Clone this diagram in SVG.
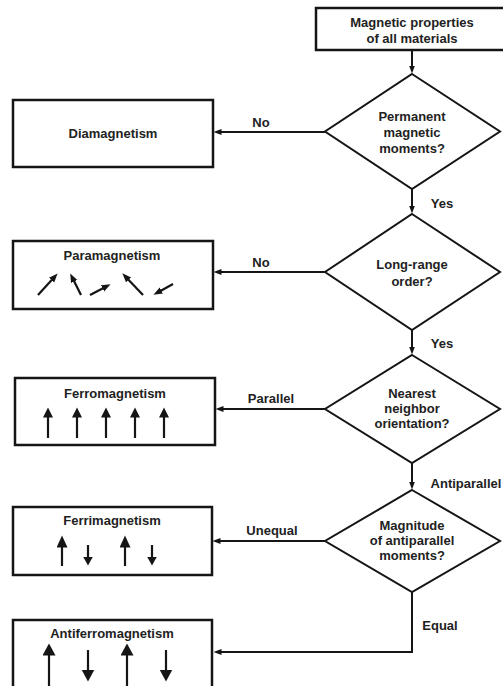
<svg xmlns="http://www.w3.org/2000/svg" width="503" height="686" viewBox="0 0 503 686">
<style>
  .box{fill:#fff;stroke:#151515;stroke-width:2.5}
  .dia{fill:#fff;stroke:#151515;stroke-width:2}
  .t{font-family:"Liberation Sans",Arial,sans-serif;font-weight:bold;font-size:13px;fill:#222;text-anchor:middle}
  .c{fill:none;stroke:#151515;stroke-width:2}
  .a{fill:none;stroke:#151515;stroke-width:2.2}
</style>
<defs>
  <marker id="mc" markerUnits="userSpaceOnUse" markerWidth="9" markerHeight="7" refX="0.5" refY="3" orient="auto"><path d="M0,0 L8,3 L0,6 z" fill="#151515"/></marker>
  <marker id="mp" markerUnits="userSpaceOnUse" markerWidth="10" markerHeight="8" refX="0.5" refY="3.5" orient="auto"><path d="M0,0 L9,3.5 L0,7 z" fill="#151515"/></marker>
  <marker id="mf" markerUnits="userSpaceOnUse" markerWidth="11" markerHeight="11" refX="0.5" refY="5" orient="auto"><path d="M0,0 L10,5 L0,10 z" fill="#151515"/></marker>
  <marker id="mu" markerUnits="userSpaceOnUse" markerWidth="13" markerHeight="12" refX="0.5" refY="5.5" orient="auto"><path d="M0,0 L12,5.5 L0,11 z" fill="#151515"/></marker>
  <marker id="md" markerUnits="userSpaceOnUse" markerWidth="10" markerHeight="11" refX="0.5" refY="5" orient="auto"><path d="M0,0 L9,5 L0,10 z" fill="#151515"/></marker>
  <marker id="ma" markerUnits="userSpaceOnUse" markerWidth="13" markerHeight="14" refX="0.5" refY="6.5" orient="auto"><path d="M0,0 L12,6.5 L0,13 z" fill="#151515"/></marker>
</defs>

<g id="connectors">
  <path class="c" d="M412,50 V66" marker-end="url(#mc)"/>
  <path class="c" d="M325,132 H221" marker-end="url(#mc)"/>
  <path class="c" d="M412,189 V206" marker-end="url(#mc)"/>
  <path class="c" d="M325,272 H221" marker-end="url(#mc)"/>
  <path class="c" d="M412,330 V347" marker-end="url(#mc)"/>
  <path class="c" d="M325,409 H223" marker-end="url(#mc)"/>
  <path class="c" d="M412,463 V482" marker-end="url(#mc)"/>
  <path class="c" d="M325,541 H220" marker-end="url(#mc)"/>
  <path class="c" d="M412,592 V652 H221" marker-end="url(#mc)"/>
  <text class="t" x="261" y="127">No</text>
  <text class="t" x="442" y="208">Yes</text>
  <text class="t" x="261" y="267">No</text>
  <text class="t" x="442" y="348">Yes</text>
  <text class="t" x="271" y="403">Parallel</text>
  <text class="t" x="466" y="488">Antiparallel</text>
  <text class="t" x="272" y="535">Unequal</text>
  <text class="t" x="440" y="630">Equal</text>
</g>

<g id="start">
  <rect class="box" x="316" y="8" width="200" height="42"/>
  <text class="t" x="412" y="27">Magnetic properties</text>
  <text class="t" x="412" y="43">of all materials</text>
</g>

<g id="q1">
  <polygon class="dia" points="412,74 500,131.5 412,189 325,131.5"/>
  <text class="t" x="412" y="121">Permanent</text>
  <text class="t" x="412" y="137">magnetic</text>
  <text class="t" x="412" y="153">moments?</text>
</g>

<g id="q2">
  <polygon class="dia" points="412,214 500,272 412,330 325,272"/>
  <text class="t" x="412" y="269">Long-range</text>
  <text class="t" x="412" y="286">order?</text>
</g>

<g id="q3">
  <polygon class="dia" points="412,355 500,409 412,463 325,409"/>
  <text class="t" x="412" y="398">Nearest</text>
  <text class="t" x="412" y="413">neighbor</text>
  <text class="t" x="412" y="428">orientation?</text>
</g>

<g id="q4">
  <polygon class="dia" points="412,490 500,541 412,592 325,541"/>
  <text class="t" x="412" y="530">Magnitude</text>
  <text class="t" x="412" y="545">of antiparallel</text>
  <text class="t" x="412" y="560">moments?</text>
</g>

<g id="diamagnetism">
  <rect class="box" x="13" y="100" width="200" height="67"/>
  <text class="t" x="113" y="138">Diamagnetism</text>
</g>

<g id="paramagnetism">
  <rect class="box" x="13" y="241" width="200" height="68"/>
  <text class="t" x="112" y="259.5">Paramagnetism</text>
  <path class="a" d="M38,295 L51.9,279.7" marker-end="url(#mp)"/>
  <path class="a" d="M81,295 L74,281" marker-end="url(#mp)"/>
  <path class="a" d="M90,295 L103,288.2" marker-end="url(#mp)"/>
  <path class="a" d="M143,295 L128.2,279.5" marker-end="url(#mp)"/>
  <path class="a" d="M173,284 L160.9,290.7" marker-end="url(#mp)"/>
</g>

<g id="ferromagnetism">
  <rect class="box" x="15" y="378" width="200" height="67"/>
  <text class="t" x="115" y="398">Ferromagnetism</text>
  <path class="a" d="M48,438 V417" marker-end="url(#mf)"/>
  <path class="a" d="M77,438 V417" marker-end="url(#mf)"/>
  <path class="a" d="M106,438 V417" marker-end="url(#mf)"/>
  <path class="a" d="M135,438 V417" marker-end="url(#mf)"/>
  <path class="a" d="M164,438 V417" marker-end="url(#mf)"/>
</g>

<g id="ferrimagnetism">
  <rect class="box" x="13" y="507" width="199" height="68"/>
  <text class="t" x="112" y="525">Ferrimagnetism</text>
  <path class="a" d="M62,566 V547" marker-end="url(#mu)"/>
  <path class="a" d="M88,545 V557" marker-end="url(#md)"/>
  <path class="a" d="M125,566 V547" marker-end="url(#mu)"/>
  <path class="a" d="M152,545 V557" marker-end="url(#md)"/>
</g>

<g id="antiferromagnetism">
  <rect class="box" x="13" y="620" width="199" height="80"/>
  <text class="t" x="112" y="638">Antiferromagnetism</text>
  <path class="a" d="M49,690 V655" marker-end="url(#ma)"/>
  <path class="a" d="M88,650 V670" marker-end="url(#ma)"/>
  <path class="a" d="M127,690 V655" marker-end="url(#ma)"/>
  <path class="a" d="M166,650 V670" marker-end="url(#ma)"/>
</g>
</svg>
